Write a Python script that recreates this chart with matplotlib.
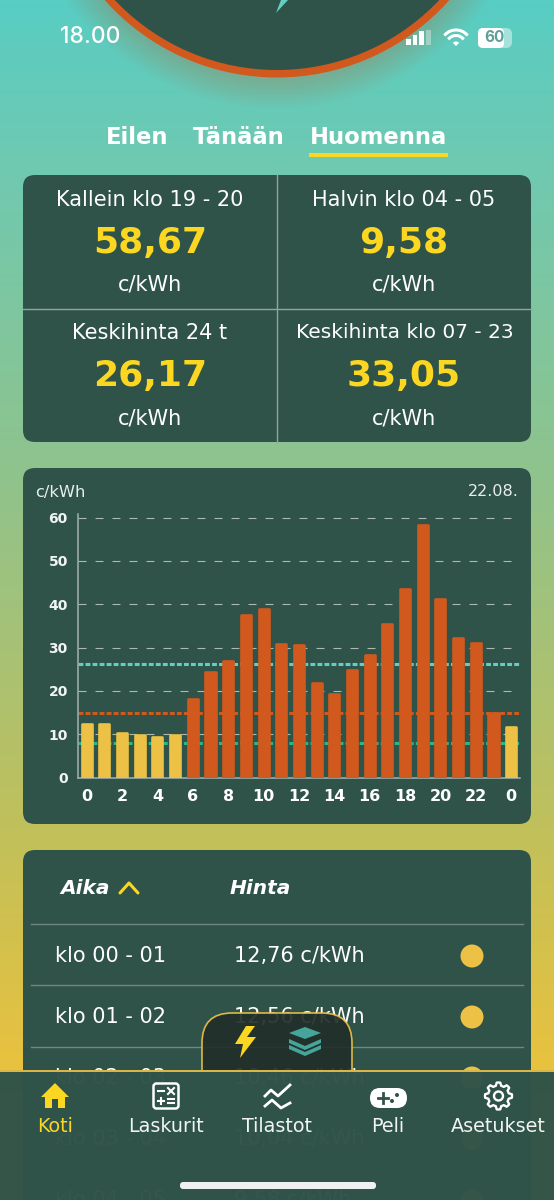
import matplotlib
matplotlib.use('Agg')
import matplotlib.pyplot as plt
import numpy as np
from matplotlib.colors import LinearSegmentedColormap
from matplotlib.patches import Circle, FancyBboxPatch, Polygon, Rectangle, Wedge

# hourly prices c/kWh, last one is the first hour of the next day
hours = list(range(25))
prices = [12.76, 12.56, 10.46, 10.04, 9.58, 10.2, 18.5, 24.7, 27.1, 37.7, 39.1, 31.2,
          30.8, 22.1, 19.6, 25.1, 28.5, 35.8, 43.9, 58.67, 41.4, 32.4, 31.4, 15.2, 11.9]
avg_line = 26.17
high_line = 15
low_line = 8
yticks = [0, 10, 20, 30, 40, 50, 60]
xticks = [0, 2, 4, 6, 8, 10, 12, 14, 16, 18, 20, 22, 24]
xticklabels = ['0', '2', '4', '6', '8', '10', '12', '14', '16', '18', '20', '22', '0']

tabs = ['Eilen', 'Tänään', 'Huomenna']
card_titles = ['Kallein klo 19 - 20', 'Halvin klo 04 - 05', 'Keskihinta 24 t', 'Keskihinta klo 07 - 23']
card_values = ['58,67', '9,58', '26,17', '33,05']
row_times = ['klo 00 - 01', 'klo 01 - 02', 'klo 02 - 03', 'klo 03 - 04', 'klo 04 - 05']
row_prices = ['12,76 c/kWh', '12,56 c/kWh', '10,46 c/kWh', '10,04 c/kWh', '9,58 c/kWh']
nav_labels = ['Koti', 'Laskurit', 'Tilastot', 'Peli', 'Asetukset']

DARK = '#2f5249'
YELLOW = '#fcd722'
BAR_YELLOW = '#ecc145'
ORANGE = '#d2591e'

plt.rcParams['font.family'] = 'DejaVu Sans'

fig = plt.figure(figsize=(5.54, 12), dpi=100)
bg = fig.add_axes([0, 0, 1, 1])
bg.set_xlim(0, 554)
bg.set_ylim(1200, 0)
bg.axis('off')


def txt(x, y, s, size, color='white', ha='center', weight='normal', style='normal', z=5, family=None):
    bg.text(x, y, s, fontsize=size, color=color, ha=ha, va='center', fontweight=weight,
            fontstyle=style, zorder=z, family=family)


def panel(x0, y0, x1, y1, color=DARK, r=12, z=2, alpha=1):
    bg.add_patch(FancyBboxPatch((x0 + r, y0 + r), x1 - x0 - 2 * r, y1 - y0 - 2 * r,
                                boxstyle='round,pad=%d,rounding_size=%d' % (r, r),
                                fc=color, ec='none', zorder=z, alpha=alpha))


# background gradient
stops = [(0, '#58cdc3'), (0.14, '#70c9b0'), (0.4, '#90c38c'), (0.7, '#c2c05a'), (0.88, '#e6c240'), (1, '#eac23c')]
cmap = LinearSegmentedColormap.from_list('bg', stops)
bg.imshow(np.linspace(0, 1, 400).reshape(-1, 1), cmap=cmap, extent=(0, 554, 1200, 0), aspect='auto', zorder=0)

# top circle with glow
for i in range(10):
    bg.add_patch(Circle((277, -153), 231 + (10 - i) * 3, fc=ORANGE, ec='none', alpha=0.025, zorder=1))
bg.add_patch(Circle((277, -153), 230.5, fc=ORANGE, ec='none', zorder=1))
bg.add_patch(Circle((277, -153), 223, fc=DARK, ec='none', zorder=1))
bg.add_patch(Polygon([(276, 13), (281, 0), (288, 0)], fc='#5fd0c4', ec='none', zorder=2))

# status bar
txt(90, 37, '18.00', 16.5, weight='medium', family='Inter')
for i, h in enumerate([6, 10, 14]):
    bg.add_patch(Rectangle((406 + i * 6.6, 45 - h), 4.6, h, fc='white', ec='none', zorder=5))
bg.add_patch(Rectangle((426, 30), 4.6, 15, fc='white', ec='none', alpha=0.35, zorder=5))
arc = np.deg2rad(np.linspace(225, 315, 30))
for r in [15, 9.5]:
    bg.plot(456 + r * np.cos(arc), 45 + r * np.sin(arc), color='white', lw=2.2, zorder=5)
bg.add_patch(Wedge((456, 46), 4.5, 225, 315, fc='white', ec='none', zorder=5))
panel(478, 28, 512, 48, color='white', r=6, z=5, alpha=0.45)
bg.add_patch(FancyBboxPatch((481, 31), 20, 14, boxstyle='round,pad=3,rounding_size=5', fc='white', ec='none', zorder=5))
txt(494, 38, '60', 11, color='#5f9f98', weight='bold', z=6, family='Inter')

# day tabs
for x, s in zip([137.5, 239, 378.5], tabs):
    txt(x, 138, s, 16.3, weight='bold')
bg.add_patch(Rectangle((309, 153), 139, 4, fc=YELLOW, ec='none', zorder=5))

# price cards
panel(23, 175, 531, 442)
bg.plot([277, 277], [175, 442], color='#93a5a0', lw=1, zorder=3)
bg.plot([23, 531], [309, 309], color='#93a5a0', lw=1, zorder=3)
for i in range(4):
    x = [150, 404][i % 2]
    y = [0, 133][i // 2]
    txt(x + (i == 3), 200 + y, card_titles[i], 15 if i != 3 else 14.5)
    txt(x, 243 + y, card_values[i], 26, color=YELLOW, weight='bold')
    txt(x, 285 + y, 'c/kWh', 15)

# chart card
panel(23, 468, 531, 824)
txt(35, 492, 'c/kWh', 11.7, ha='left', color='#e8eeec')
txt(519, 491, '22.08.', 11.5, ha='right', color='#e8eeec')

# bar chart axes, placed in pixels
px0, px1, py0, py1 = 77.5, 520, 513.7, 777.5
ax = fig.add_axes([px0 / 554, 1 - py1 / 1200, (px1 - px0) / 554, (py1 - py0) / 1200], zorder=3)
ax.patch.set_alpha(0)
vals = np.array(prices)
colors = [BAR_YELLOW if v < high_line else ORANGE for v in vals]
ax.hlines(yticks[1:], -0.52, 24.1, color='#a9b9b4', lw=0.8, linestyles=(0, (7.2, 8.1)), zorder=1)
ax.axhline(avg_line, color='#5fd0c4', lw=2.2, linestyle=(0, (1.6, 0.7)), zorder=2)
ax.axhline(high_line, color=ORANGE, lw=2.2, linestyle=(0, (1.6, 0.7)), zorder=2)
ax.axhline(low_line, color='#27b88a', lw=2.2, linestyle=(0, (1.6, 0.7)), zorder=2)
# round join on the edge gives the rounded bar tops
bars = ax.bar(hours, vals - 0.3, width=0.57, color=colors, edgecolor=colors, lw=1.9, zorder=3)
for b in bars:
    b.set_joinstyle('round')
ax.set_xlim(-0.52, 24.5)
ax.set_ylim(0, 60.9)
ax.set_xticks(xticks)
ax.set_xticklabels(xticklabels, fontsize=11.5, fontweight='bold', color='white')
ax.set_yticks(yticks)
ax.set_yticklabels([str(t) for t in yticks], fontsize=10, fontweight='bold', color='#f0f4f2')
ax.tick_params(length=0, axis='x', pad=8)
ax.tick_params(length=0, axis='y', pad=7)
for s in ['top', 'right']:
    ax.spines[s].set_visible(False)
for s in ['left', 'bottom']:
    ax.spines[s].set_color('#a4b2ae')
    ax.spines[s].set_linewidth(1.1)

# price table
panel(23, 850, 531, 1240)
txt(60, 888, 'Aika', 14.5, ha='left', weight='bold', style='italic')
bg.plot([120, 129, 138], [893, 883, 893], color=YELLOW, lw=2.2, zorder=5, solid_capstyle='round')
txt(230, 888, 'Hinta', 14.5, ha='left', weight='bold', style='italic')
for y in [924, 985, 1047]:
    bg.plot([31, 523], [y, y], color='#6e8780', lw=1, zorder=3)
for i in range(5):
    y = 956 + i * 61
    txt(55, y, row_times[i], 15, ha='left', z=3)
    txt(234, y, row_prices[i], 15, ha='left', z=3)
    bg.add_patch(Circle((472, y), 11.5, fc=BAR_YELLOW, ec='none', zorder=3))

# floating switcher, cut off by the nav bar
sw = FancyBboxPatch((232, 1043), 90, 70, boxstyle='round,pad=30,rounding_size=30',
                    fc='#232f2b', ec=BAR_YELLOW, lw=1.2, alpha=0.93, zorder=6)
bg.add_patch(sw)
sw.set_clip_path(Rectangle((190, 1000), 180, 70, transform=bg.transData))
bg.add_patch(Polygon([(246, 1026), (235, 1044), (243, 1044), (240, 1058), (256, 1037), (247, 1037), (255, 1026)],
                     fc=YELLOW, ec='none', zorder=7))
for y in [1049, 1043]:
    bg.add_patch(Polygon([(289, y - 4), (305, y + 3), (321, y - 4), (321, y), (305, y + 7), (289, y)],
                         fc='#46a59a', ec='none', zorder=7))
bg.add_patch(Polygon([(305, 1027), (321, 1033), (305, 1039), (289, 1033)], fc='#46a59a', ec='none', zorder=7))

# bottom navigation
bg.add_patch(Rectangle((0, 1070), 554, 130, fc=DARK, ec='none', alpha=0.975, zorder=8))
bg.plot([0, 554], [1070.5, 1070.5], color=BAR_YELLOW, lw=1.3, zorder=9)
z = 10
for x, s in zip([55.5, 166, 277, 388, 498.5], nav_labels):
    txt(x, 1127, s, 13.8, color=YELLOW if s == 'Koti' else '#f0f4f2', z=z)

# home icon
bg.add_patch(Polygon([(55, 1083), (69, 1097), (65, 1097), (65, 1108), (58, 1108), (58, 1099), (52, 1099), (52, 1108),
                      (45, 1108), (45, 1097), (41, 1097)], fc=YELLOW, ec='none', zorder=z))
# calculator icon
bg.add_patch(FancyBboxPatch((156, 1086), 20, 20, boxstyle='round,pad=2.5,rounding_size=3', fc=DARK, ec='white', lw=1.8, zorder=z))
bg.plot([158, 164], [1091, 1091], color='white', lw=1.5, zorder=z + 1)
bg.plot([168, 174], [1094, 1088], color='white', lw=1.5, zorder=z + 1)
bg.plot([168, 174], [1088, 1094], color='white', lw=1.5, zorder=z + 1)
bg.plot([158, 164], [1101, 1101], color='white', lw=1.5, zorder=z + 1)
bg.plot([161, 161], [1098, 1104], color='white', lw=1.5, zorder=z + 1)
bg.plot([168, 174], [1099, 1099], color='white', lw=1.5, zorder=z + 1)
bg.plot([168, 174], [1103, 1103], color='white', lw=1.5, zorder=z + 1)
# stats icon
bg.plot([265, 271, 278, 290], [1096, 1090, 1096, 1085], color='white', lw=2, zorder=z)
bg.plot([265, 272, 281, 290], [1106, 1100, 1108, 1103], color='white', lw=2, zorder=z)
# gamepad icon
panel(370, 1088, 407, 1108, color='white', r=10, z=z)
bg.plot([378, 388], [1098, 1098], color=DARK, lw=2, zorder=z + 1)
bg.plot([383, 383], [1093, 1103], color=DARK, lw=2, zorder=z + 1)
bg.add_patch(Circle((397, 1095), 2, fc=DARK, ec='none', zorder=z + 1))
bg.add_patch(Circle((392, 1101), 2, fc=DARK, ec='none', zorder=z + 1))
# gear icon
ang = np.deg2rad(np.arange(0, 360, 7.5))
rad = 13.5 - 3 * (np.cos(8 * ang) < 0)
gear = np.column_stack([498.5 + rad * np.cos(ang), 1096 + rad * np.sin(ang)])
bg.add_patch(Polygon(gear, fc=DARK, ec='white', lw=1.7, joinstyle='round', zorder=z))
bg.add_patch(Circle((498.5, 1096), 4.5, fc=DARK, ec='white', lw=1.7, zorder=z + 1))
# home indicator
panel(180, 1182, 376, 1189, color='#f0f0f0', r=3, z=z)

plt.savefig('out.png', dpi=100)
